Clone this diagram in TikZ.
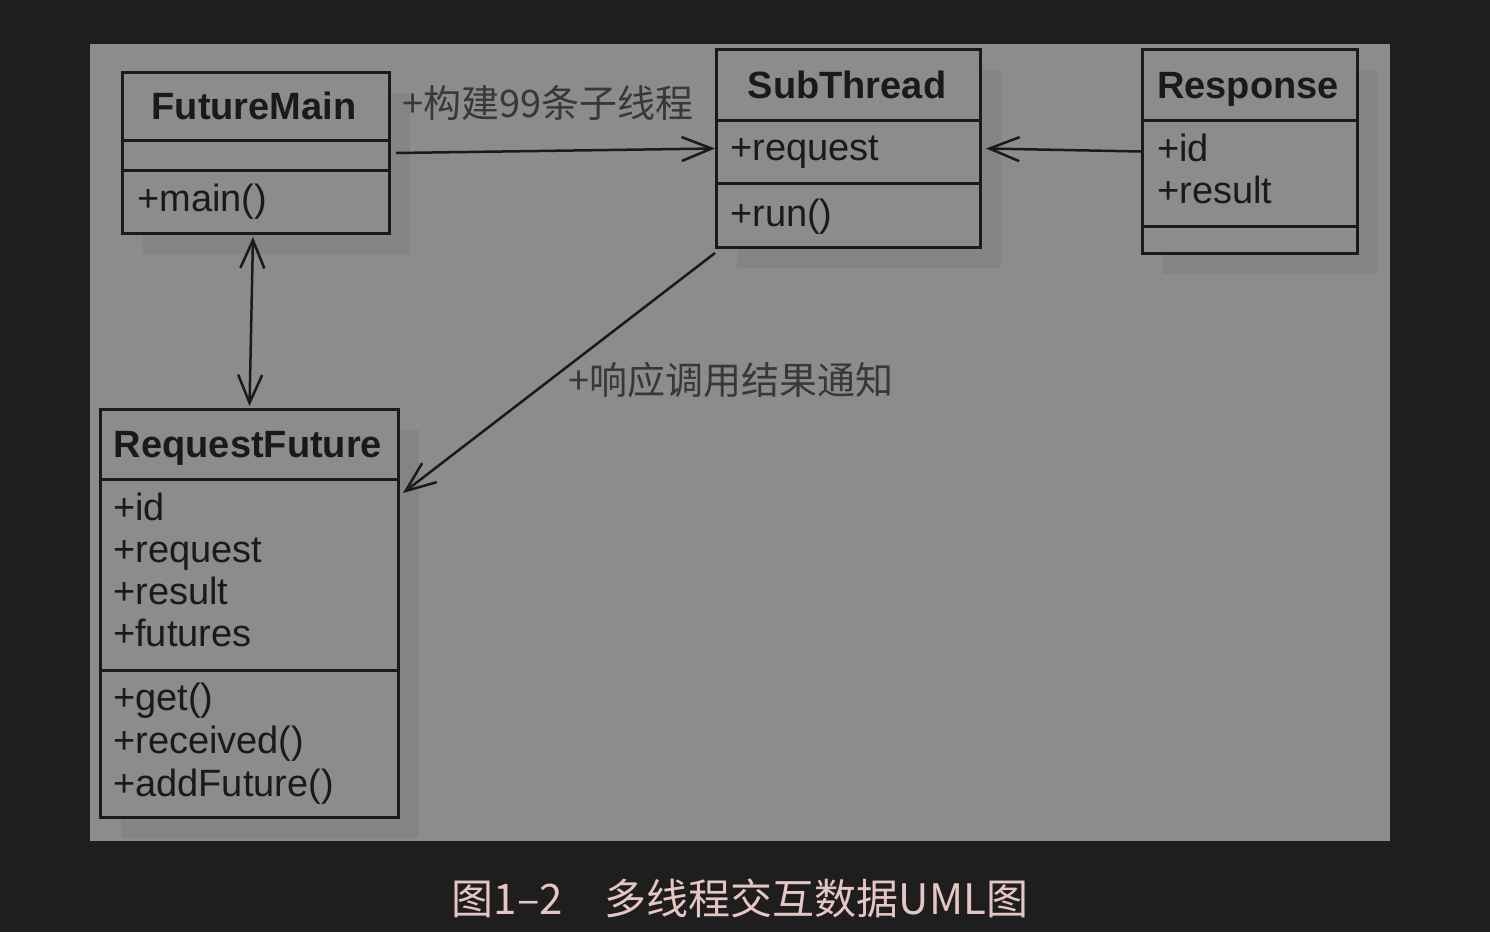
\documentclass[tikz,border=0pt]{standalone}
\usepackage{fontspec}
\setmainfont{Liberation Sans}
\newfontfamily\cjk{Noto Sans CJK SC}
\usetikzlibrary{arrows.meta,shadows}
\definecolor{pagebg}{HTML}{1E1E1E}
\definecolor{panelgray}{HTML}{8C8C8C}
\definecolor{shadowgray}{HTML}{848484}
\definecolor{inkdark}{HTML}{1A1A1A}
\definecolor{labelgray}{HTML}{383838}
\definecolor{captionpink}{HTML}{E6C6C4}
\tikzset{
  umlclass/.style={
    draw=inkdark, line width=3pt, fill=panelgray, anchor=north west, inner sep=0pt,
    drop shadow={shadow xshift=20pt,shadow yshift=-20pt,fill=shadowgray,opacity=1}
  },
  umlline/.style={draw=inkdark, line width=3pt},
  classname/.style={font=\fontsize{38}{42}\selectfont\bfseries, text=inkdark, anchor=base, inner sep=0pt},
  member/.style={font=\fontsize{38}{42}\selectfont, text=inkdark, anchor=base west, inner sep=0pt},
  assoclbl/.style={font=\cjk\fontsize{38}{42}\selectfont, text=labelgray, anchor=west, inner sep=0pt}
}
\tikzset{
  assoc/.style={draw=inkdark, line width=2.5pt, -{Straight Barb[length=30pt,width=24pt]}},
  assoc both/.style={draw=inkdark, line width=2.5pt,
    {Straight Barb[length=28pt,width=24pt]}-{Straight Barb[length=28pt,width=24pt]}}
}

\begin{document}
\begin{tikzpicture}[x=1pt,y=-1pt]
\useasboundingbox[fill=pagebg] (0,0) rectangle (1490,932);
\fill[panelgray] (90,44) rectangle (1390,841);

% classes
\node[umlclass, minimum width=267pt, minimum height=161pt] (fm) at (121,71) {};
\draw[umlline] ([yshift=-69pt]fm.north west) -- ([yshift=-69pt]fm.north east);
\draw[umlline] ([yshift=-99pt]fm.north west) -- ([yshift=-99pt]fm.north east);
\node[classname] (fm-name) at (254,119) {FutureMain};
\node[member] (fm-m1) at (137,211) {+main()};

\node[umlclass, minimum width=264pt, minimum height=198pt] (st) at (715,48) {};
\draw[umlline] ([yshift=-72pt]st.north west) -- ([yshift=-72pt]st.north east);
\draw[umlline] ([yshift=-135pt]st.north west) -- ([yshift=-135pt]st.north east);
\node[classname] (st-name) at (847,98) {SubThread};
\node[member] (st-a1) at (730,160) {+request};
\node[member] (st-m1) at (730,226) {+run()};

\node[umlclass, minimum width=215pt, minimum height=204pt] (rs) at (1141,48) {};
\draw[umlline] ([yshift=-72pt]rs.north west) -- ([yshift=-72pt]rs.north east);
\draw[umlline] ([yshift=-178pt]rs.north west) -- ([yshift=-178pt]rs.north east);
\node[classname] (rs-name) at (1248,98) {Response};
\node[member] (rs-a1) at (1157,161) {+id};
\node[member] (rs-a2) at (1157,203) {+result};

\node[umlclass, minimum width=298pt, minimum height=408pt] (rf) at (99,408) {};
\draw[umlline] ([yshift=-71pt]rf.north west) -- ([yshift=-71pt]rf.north east);
\draw[umlline] ([yshift=-262pt]rf.north west) -- ([yshift=-262pt]rf.north east);
\node[classname] (rf-name) at (248,457) {RequestFuture};
\foreach \txt [count=\i from 0] in {+id,+request,+result,+futures}
  \node[member] (rf-a\i) at (113,{520+42.3*\i}) {\txt};
\foreach \txt [count=\i from 0] in {+get(),+received(),+addFuture()}
  \node[member] (rf-m\i) at (113,{710+43*\i}) {\txt};

% associations
\draw[assoc] ([xshift=5pt]fm.east) -- (st.west);
\node[assoclbl] (l-build) at (402,103) {+构建99条子线程};
\draw[assoc] (rs.west) -- ([xshift=4pt]st.east);
\draw[assoc both] ([xshift=-3pt,yshift=-2pt]fm.south) -- ([yshift=2pt]rf.north);
\draw[assoc] ([yshift=-4pt]st.south west) -- ([xshift=3pt,yshift=-85pt]rf.north east);
\node[assoclbl] (l-notify) at (568,380) {+响应调用结果通知};

% caption
\node[font=\cjk\fontsize{42}{46}\selectfont, text=captionpink, inner sep=0pt] (cap) at (740,898) {图1–2　多线程交互数据UML图};
\end{tikzpicture}
\end{document}
